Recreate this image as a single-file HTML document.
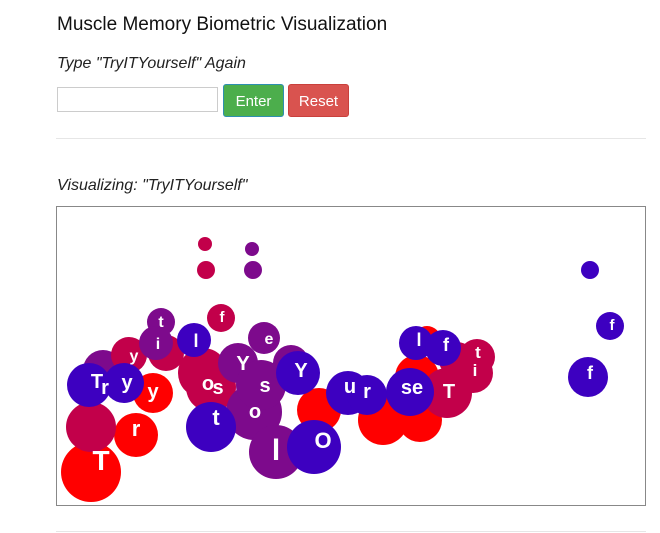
<!DOCTYPE html>
<html><head><meta charset="utf-8"><style>
body{margin:0;width:660px;height:533px;background:#fff;font-family:"Liberation Sans",sans-serif;color:#222;position:relative;overflow:hidden}
.a{position:absolute}
h1{position:absolute;left:57px;top:14px;margin:0;font-size:19px;font-weight:normal;color:#111}
.i{font-style:italic;font-size:16px;color:#222}
.btn{position:absolute;top:84px;height:33px;border-radius:3px;color:#fff;font-size:15px;line-height:33px;text-align:center;box-sizing:border-box}
hr{position:absolute;left:56px;width:590px;border:0;border-top:1px solid #e6e6e6;margin:0}
</style></head><body>
<h1>Muscle Memory Biometric Visualization</h1>
<div class="a i" style="left:57px;top:55px">Type "TryITYourself" Again</div>
<div class="a" style="left:57px;top:87px;width:161px;height:25px;border:1px solid #ccc;box-sizing:border-box"></div>
<div class="btn" style="left:223px;width:61px;background:#4cae4c;border:1px solid #2e8fb0">Enter</div>
<div class="btn" style="left:288px;width:61px;background:#d9534f;border:1px solid #c9403c">Reset</div>
<hr style="top:138px">
<div class="a i" style="left:57px;top:177px">Visualizing: "TryITYourself"</div>
<div class="a" style="left:56px;top:206px;width:590px;height:300px;border:1px solid #888;box-sizing:border-box"></div>
<hr style="top:531px">
<svg class="a" style="left:0;top:0" width="660" height="533" font-family="Liberation Sans, sans-serif" font-weight="bold" fill="#fff" text-anchor="middle">
<g>
<circle cx="205" cy="244" r="7" fill="#c2004a"/><circle cx="252" cy="249" r="7" fill="#7d0a8c"/>
<circle cx="206" cy="270" r="9" fill="#c2004a"/><circle cx="253" cy="270" r="9" fill="#7d0a8c"/>
<circle cx="590" cy="270" r="9" fill="#3d00c0"/><circle cx="610" cy="326" r="14" fill="#3d00c0"/>
<circle cx="588" cy="377" r="20" fill="#3d00c0"/>
<circle cx="91" cy="472" r="30" fill="#ff0000"/>
<circle cx="136" cy="435" r="22" fill="#ff0000"/>
<circle cx="91" cy="427" r="25" fill="#c2004a"/>
<circle cx="153" cy="393" r="20" fill="#ff0000"/>
<circle cx="103" cy="370" r="20" fill="#7d0a8c"/>
<circle cx="129" cy="355" r="18" fill="#c2004a"/>
<circle cx="166" cy="353" r="18" fill="#c2004a"/>
<circle cx="89" cy="385" r="22" fill="#3d00c0"/><circle cx="124" cy="383" r="20" fill="#3d00c0"/>
<circle cx="161" cy="322" r="14" fill="#7d0a8c"/><circle cx="156" cy="343" r="17" fill="#7d0a8c"/>
<circle cx="221" cy="318" r="14" fill="#c2004a"/>
<circle cx="203" cy="373" r="25" fill="#c2004a"/><circle cx="211" cy="387" r="25" fill="#c2004a"/>
<circle cx="194" cy="340" r="17" fill="#3d00c0"/>
<circle cx="238" cy="363" r="20" fill="#7d0a8c"/>
<circle cx="264" cy="338" r="16" fill="#7d0a8c"/>
<circle cx="254" cy="412" r="28" fill="#7d0a8c"/>
<circle cx="261" cy="385" r="25" fill="#7d0a8c"/>
<circle cx="211" cy="427" r="25" fill="#3d00c0"/>
<circle cx="319" cy="410" r="22" fill="#ff0000"/>
<circle cx="291" cy="363" r="18" fill="#7d0a8c"/><circle cx="298" cy="373" r="22" fill="#3d00c0"/>
<circle cx="276" cy="452" r="27" fill="#7d0a8c"/>
<circle cx="314" cy="447" r="27" fill="#3d00c0"/>
<circle cx="383" cy="420" r="25" fill="#ff0000"/><circle cx="420" cy="420" r="22" fill="#ff0000"/>
<circle cx="417" cy="377" r="22" fill="#ff0000"/><circle cx="427" cy="340" r="14" fill="#ff0000"/>
<circle cx="447" cy="393" r="25" fill="#c2004a"/><circle cx="477" cy="357" r="18" fill="#c2004a"/>
<circle cx="473" cy="373" r="20" fill="#c2004a"/><circle cx="457" cy="360" r="18" fill="#c2004a"/>
<circle cx="348" cy="393" r="22" fill="#3d00c0"/><circle cx="367" cy="395" r="20" fill="#3d00c0"/>
<circle cx="410" cy="392" r="24" fill="#3d00c0"/>
<circle cx="416" cy="343" r="17" fill="#3d00c0"/><circle cx="443" cy="348" r="18" fill="#3d00c0"/>
</g>
<g font-size="20">
<text x="101" y="470" font-size="28">T</text><text x="136" y="436" font-size="22">r</text>
<text x="153" y="398">y</text><text x="97" y="388">T</text><text x="105" y="394">r</text><text x="127" y="389">y</text>
<text x="134" y="361" font-size="16">y</text><text x="161" y="327" font-size="16">t</text><text x="158" y="349" font-size="16">i</text>
<text x="222" y="322" font-size="15">f</text><text x="196" y="347" font-size="18">l</text><text x="243" y="370">Y</text>
<text x="269" y="344" font-size="16">e</text><text x="208" y="390">o</text><text x="218" y="394">s</text>
<text x="265" y="392">s</text><text x="255" y="418">o</text><text x="216" y="425" font-size="22">t</text>
<text x="276" y="460" font-size="30">l</text><text x="323" y="448" font-size="22">O</text>
<text x="301" y="377">Y</text><text x="350" y="393">u</text><text x="367" y="398">r</text>
<text x="412" y="394">se</text><text x="419" y="346" font-size="18">l</text><text x="446" y="351" font-size="18">f</text>
<text x="449" y="398">T</text><text x="478" y="358" font-size="17">t</text><text x="475" y="376" font-size="17">i</text>
<text x="590" y="379" font-size="18">f</text><text x="612" y="330" font-size="15">f</text>
</g>
</svg>
</body></html>
